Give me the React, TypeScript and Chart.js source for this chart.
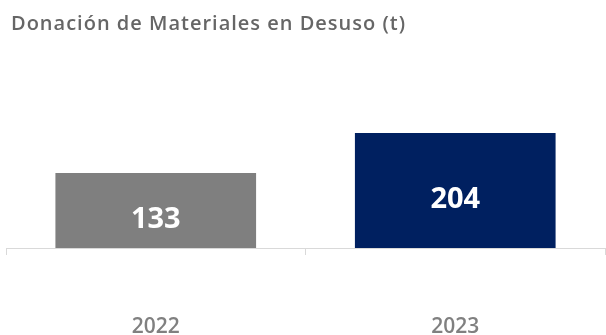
import React, { useEffect, useRef } from "react";
import { Chart, registerables } from "chart.js";

Chart.register(...registerables);

const categories: string[] = ["2022", "2023"];
const values: number[] = [133, 204];
const barColors: string[] = ["#7f7f7f", "#002060"];
const chartTitle = "Donación de Materiales en Desuso (t)";

const titlePlugin = {
  id: "customTitle",
  afterDraw(chart: any) {
    const ctx = chart.ctx;
    ctx.save();
    ctx.font = "600 20px 'Open Sans'";
    (ctx as any).letterSpacing = "1px";
    ctx.fillStyle = "#666666";
    ctx.textAlign = "left";
    ctx.textBaseline = "middle";
    ctx.fillText(chartTitle, 11, 24);
    ctx.restore();
  },
};

const valueLabelPlugin = {
  id: "valueLabels",
  afterDatasetsDraw(chart: any) {
    const ctx = chart.ctx;
    const meta = chart.getDatasetMeta(0);
    ctx.save();
    ctx.font = "bold 29px 'Open Sans'";
    ctx.fillStyle = "#ffffff";
    ctx.textAlign = "center";
    ctx.textBaseline = "middle";
    meta.data.forEach((bar: any, i: number) => {
      const cy = (bar.y + bar.base) / 2 + 9;
      ctx.fillText(String(values[i]), bar.x, cy);
    });
    ctx.restore();
  },
};

export default function App() {
  const ref = useRef<HTMLCanvasElement | null>(null);
  useEffect(() => {
    document.body.style.margin = "0";
    if (!ref.current) return;
    const chart = new Chart(ref.current, {
      type: "bar",
      data: {
        labels: categories,
        datasets: [
          {
            data: values,
            backgroundColor: barColors,
            barPercentage: 0.67,
            categoryPercentage: 1,
          },
        ],
      },
      options: {
        animation: false,
        responsive: false,
        maintainAspectRatio: false,
        layout: { padding: { top: 107, left: 6, right: 1, bottom: 0 } },
        plugins: {
          legend: { display: false },
          title: { display: false },
          tooltip: { enabled: false },
        },
        scales: {
          x: {
            offset: true,
            afterFit: (scale: any) => {
              scale.height = 152;
            },
            grid: {
              offset: true,
              drawOnChartArea: false,
              drawTicks: true,
              tickLength: 7,
              color: "#d9d9d9",
            },
            border: { display: true, color: "#d9d9d9", width: 1 },
            ticks: {
              padding: 59,
              color: "#808080",
              font: { family: "'Open Sans'", size: 21, weight: "600" },
            },
          },
          y: {
            display: false,
            min: 0,
            max: 250,
          },
        },
      },
      plugins: [titlePlugin, valueLabelPlugin],
    });
    return () => chart.destroy();
  }, []);
  return (
    <div style={{ width: 606, height: 335, overflow: "hidden", position: "relative" }}>
      <canvas ref={ref} width={606} height={400} style={{ display: "block" }} />
    </div>
  );
}
